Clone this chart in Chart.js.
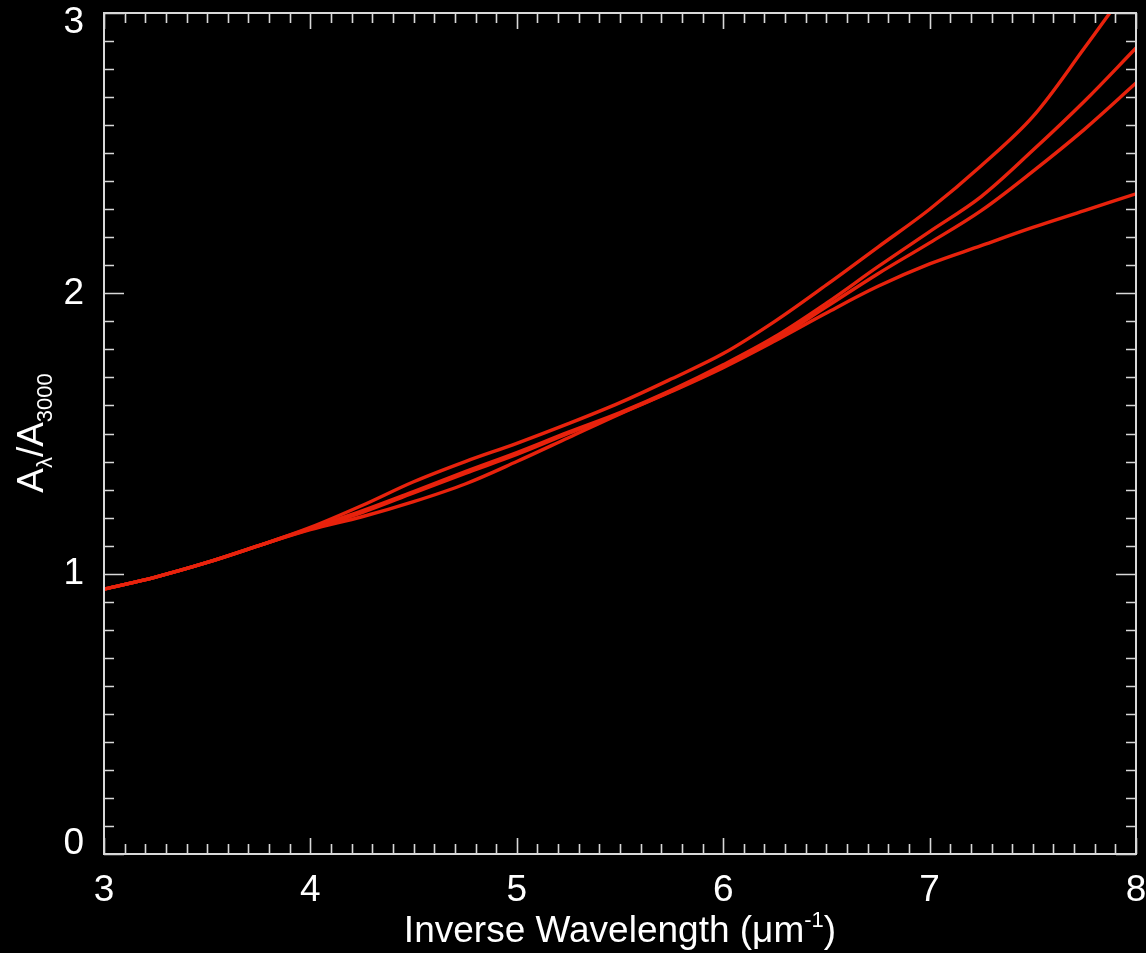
<!DOCTYPE html>
<html>
<head>
<meta charset="utf-8">
<script src="https://cdn.jsdelivr.net/npm/chart.js@4.4.0/dist/chart.umd.min.js"></script>
<style>
    html, body { margin: 0; padding: 0; background: #000; }
    canvas { display: block; }
</style>
</head>
<body>
<canvas id="extinctionChart" width="1146" height="953"></canvas>
<script>
// x values (inverse wavelength, 1/micron)
const inverseWavelength = [3.0, 3.25, 3.5, 3.75, 4.0, 4.25, 4.5, 4.75, 5.0, 5.25, 5.5, 5.75, 6.0, 6.25, 6.5, 6.75, 7.0, 7.25, 7.5, 7.75, 8.0];

// A_lambda / A_3000 for the four curves
const curveA = [0.945, 0.988, 1.04, 1.10, 1.165, 1.243, 1.328, 1.40, 1.465, 1.535, 1.61, 1.695, 1.785, 1.90, 2.03, 2.165, 2.30, 2.455, 2.63, 2.875, 3.13];
const curveB = [0.945, 0.988, 1.04, 1.10, 1.162, 1.224, 1.293, 1.364, 1.432, 1.505, 1.575, 1.655, 1.745, 1.845, 1.965, 2.095, 2.22, 2.345, 2.51, 2.685, 2.875];
const curveC = [0.945, 0.988, 1.04, 1.10, 1.16, 1.218, 1.288, 1.358, 1.425, 1.50, 1.572, 1.652, 1.74, 1.835, 1.952, 2.07, 2.18, 2.295, 2.435, 2.585, 2.75];
const curveD = [0.945, 0.988, 1.04, 1.10, 1.157, 1.203, 1.257, 1.32, 1.40, 1.485, 1.57, 1.65, 1.735, 1.83, 1.93, 2.025, 2.105, 2.17, 2.235, 2.295, 2.355];

// tick labels
const xTickValues = [3, 4, 5, 6, 7, 8];
const yTickValues = [0, 1, 2, 3];

const FONT = "'Liberation Sans', Arial, Helvetica, sans-serif";
const RED = '#e8220c';
const AXIS = '#d8d8d8';

// box with inward ticks on all four sides + axis titles
const framePlugin = {
    id: 'frame',
    afterDraw(chart) {
        const { ctx, chartArea: a, scales: { x, y } } = chart;
        ctx.save();
        ctx.strokeStyle = AXIS;
        ctx.lineWidth = 2;
        ctx.strokeRect(a.left, a.top, a.right - a.left, a.bottom - a.top);

        ctx.lineWidth = 1.6;
        ctx.beginPath();
        // x ticks every 0.1, major every 1
        for (let i = 0; i <= 50; i++) {
            const px = Math.round(x.getPixelForValue(3 + i / 10)) + 0.5;
            const len = i % 10 === 0 ? 16 : 10;
            ctx.moveTo(px, a.bottom); ctx.lineTo(px, a.bottom - len);
            ctx.moveTo(px, a.top); ctx.lineTo(px, a.top + len);
        }
        // y ticks every 0.1, major every 1
        for (let i = 0; i <= 30; i++) {
            const py = Math.round(y.getPixelForValue(i / 10)) + 0.5;
            const len = i % 10 === 0 ? 20 : 10;
            ctx.moveTo(a.left, py); ctx.lineTo(a.left + len, py);
            ctx.moveTo(a.right, py); ctx.lineTo(a.right - len, py);
        }
        ctx.stroke();

        ctx.fillStyle = '#fff';
        ctx.textBaseline = 'alphabetic';

        // x title with superscript
        const xParts = [
            { t: 'Inverse Wavelength (\u03bcm', s: 37, dy: 0 },
            { t: '-1', s: 22, dy: -15 },
            { t: ')', s: 37, dy: 0 }
        ];
        drawParts(ctx, xParts, (a.left + a.right) / 2, 942);

        // y title, rotated, with subscripts
        ctx.translate(43, 433);
        ctx.rotate(-Math.PI / 2);
        const yParts = [
            { t: 'A', s: 37, dy: 0 },
            { t: '\u03bb', s: 22, dy: 9 },
            { t: '/A', s: 37, dy: 0 },
            { t: '3000', s: 22, dy: 9 }
        ];
        drawParts(ctx, yParts, 0, 0);
        ctx.restore();
    }
};

function drawParts(ctx, parts, cx, baseY) {
    let total = 0;
    parts.forEach(p => {
        ctx.font = p.s + 'px ' + FONT;
        p.w = ctx.measureText(p.t).width;
        total += p.w;
    });
    let xPos = cx - total / 2;
    ctx.textAlign = 'left';
    parts.forEach(p => {
        ctx.font = p.s + 'px ' + FONT;
        ctx.fillText(p.t, xPos, baseY + p.dy);
        xPos += p.w;
    });
}

const series = [curveA, curveB, curveC, curveD];

const ctx = document.getElementById('extinctionChart').getContext('2d');
new Chart(ctx, {
    type: 'line',
    data: {
        datasets: series.map(vals => ({
            data: inverseWavelength.map((v, i) => ({ x: v, y: vals[i] })),
            borderColor: RED,
            borderWidth: 3.4,
            pointRadius: 0,
            tension: 0.35,
            fill: false
        }))
    },
    options: {
        responsive: false,
        animation: false,
        layout: { padding: { top: 13, right: 10, left: 0, bottom: 0 } },
        plugins: {
            legend: { display: false },
            tooltip: { enabled: false }
        },
        scales: {
            x: {
                type: 'linear',
                min: 3,
                max: 8,
                afterBuildTicks: s => { s.ticks = xTickValues.map(v => ({ value: v })); },
                afterFit: s => { s.height = 99; s.paddingLeft = 0; s.paddingRight = 0; },
                grid: { display: false },
                border: { display: false },
                ticks: {
                    color: '#fff',
                    font: { family: FONT, size: 37 },
                    padding: 7,
                    maxRotation: 0,
                    autoSkip: false
                }
            },
            y: {
                type: 'linear',
                min: 0,
                max: 3,
                afterBuildTicks: s => { s.ticks = yTickValues.map(v => ({ value: v })); },
                afterFit: s => { s.width = 104; s.paddingTop = 0; s.paddingBottom = 0; },
                grid: { display: false },
                border: { display: false },
                ticks: {
                    color: '#fff',
                    font: { family: FONT, size: 37, lineHeight: 0.55 },
                    padding: 12,
                    autoSkip: false,
                    // push the end labels inside the frame like the original
                    callback: v => v === 0 ? ['0', ''] : v === 3 ? ['', '3'] : String(v)
                }
            }
        }
    },
    plugins: [framePlugin]
});
</script>
</body>
</html>
